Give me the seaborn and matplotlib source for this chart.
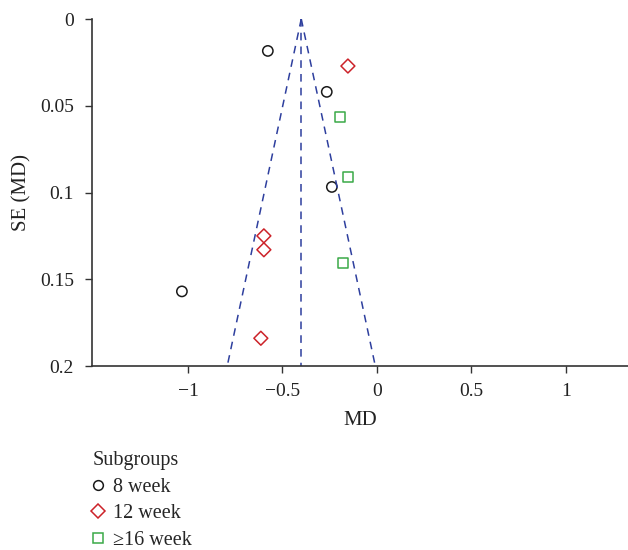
import matplotlib
matplotlib.use("Agg")
import matplotlib.pyplot as plt
import seaborn as sns
import pandas as pd
import numpy as np
from matplotlib.lines import Line2D

sns.set_style("ticks")
plt.rcParams['font.family'] = ['Liberation Serif', 'DejaVu Serif']

groups = ["8 week"] * 4 + ["12 week"] * 4 + ["≥16 week"] * 3
md = [-0.577, -0.265, -0.238, -1.032,
      -0.153, -0.598, -0.598, -0.614,
      -0.196, -0.153, -0.180]
se = [0.0184, 0.042, 0.0968, 0.157,
      0.0271, 0.125, 0.133, 0.184,
      0.0565, 0.091, 0.1406]
pooled_md = -0.40
se_max = 0.2

df = pd.DataFrame({"MD": md, "SE": se, "Subgroup": groups})

fig = plt.figure(figsize=(6.28, 5.5), dpi=100)
ax = fig.add_axes([92/628, (550-366)/550, (628-92)/628, (366-19)/550])

blue = "#2e3f9e"
ax.plot([pooled_md, pooled_md - 1.96*se_max], [0, se_max], ls=(0, (5, 4)), color=blue, lw=1.1)
ax.plot([pooled_md, pooled_md + 1.96*se_max], [0, se_max], ls=(0, (5, 4)), color=blue, lw=1.1)
ax.plot([pooled_md, pooled_md], [0, se_max], ls=(0, (5, 4)), color=blue, lw=1.1)

palette = {"8 week": "#1a1a1a", "12 week": "#cc2229", "≥16 week": "#3aaa48"}
markers = {"8 week": "o", "12 week": "D", "≥16 week": "s"}
for g in ["8 week", "12 week", "≥16 week"]:
    sub = df[df.Subgroup == g]
    sns.scatterplot(data=sub, x="MD", y="SE", ax=ax, marker=markers[g],
                    facecolor="none", edgecolor=palette[g], linewidth=1.1,
                    s=55 if g != "12 week" else 50, legend=False)

ax.set_xlim(-1.508, 1.33)
ax.set_ylim(0.2, 0)
ax.set_xticks([-1, -0.5, 0, 0.5, 1])
ax.set_xticklabels(["−1", "−0.5", "0", "0.5", "1"])
ax.set_yticks([0, 0.05, 0.1, 0.15, 0.2])
ax.set_yticklabels(["0", "0.05", "0.1", "0.15", "0.2"])
ax.tick_params(labelsize=14, length=5, width=1, color="#333333", labelcolor="#222222")
ax.tick_params(axis="x", pad=7)
ax.tick_params(axis="y", pad=8)
for s in ["top", "right"]:
    ax.spines[s].set_visible(False)
for s in ["left", "bottom"]:
    ax.spines[s].set_color("#333333")
    ax.spines[s].set_linewidth(1.2)
ax.set_xlabel("MD", fontsize=15, color="#222222", labelpad=8)
ax.set_ylabel("SE (MD)", fontsize=15, color="#222222", labelpad=6)

msizes = {"8 week": 7, "12 week": 7.5, "≥16 week": 6.5}
handles = [Line2D([0], [0], marker=markers[g], ls="none", markerfacecolor="none",
                  markeredgecolor=palette[g], markersize=msizes[g], markeredgewidth=1.1,
                  label=g) for g in ["8 week", "12 week", "≥16 week"]]
leg = fig.legend(handles=handles, title="Subgroups", loc="upper left",
                 bbox_to_anchor=(85/628, 1 - 443/550), frameon=False,
                 fontsize=14.5, title_fontsize=14.5, handletextpad=0.5,
                 labelspacing=0.37, handlelength=0.5, borderaxespad=0)
leg._legend_box.align = "left"

fig.savefig("out.png", dpi=100)
